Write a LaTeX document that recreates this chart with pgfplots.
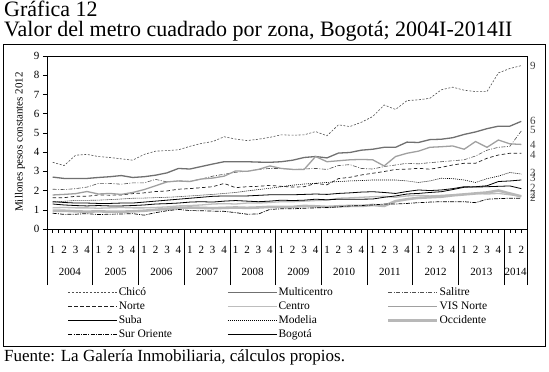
\documentclass[border=0pt]{standalone}
\usepackage{fontspec}
\setmainfont{Liberation Serif}
\usepackage{pgfplots}
\usepackage{pgfplotstable}
\pgfplotsset{compat=1.18}

\definecolor{cChico}{HTML}{505050}
\definecolor{cMulti}{HTML}{707070}
\definecolor{cSal}{HTML}{505050}
\definecolor{cNorte}{HTML}{202020}
\definecolor{cCentro}{HTML}{BDBDBD}
\definecolor{cVis}{HTML}{A0A0A0}
\definecolor{cOcc}{HTML}{B8B8B8}

\pgfplotstableread{
q chico multi salitre norte centro vis suba modelia occ sur bog
1  3.47 2.70 2.07 1.63 1.10 1.77 1.30 1.40 0.95 0.82 1.42
2  3.30 2.63 2.05 1.63 1.12 1.80 1.25 1.44 0.95 0.76 1.38
3  3.84 2.63 2.10 1.70 1.10 1.84 1.22 1.49 0.92 0.77 1.35
4  3.88 2.63 2.18 1.70 1.10 1.95 1.20 1.49 0.90 0.80 1.35
5  3.77 2.68 2.37 1.77 1.08 1.82 1.22 1.50 0.92 0.75 1.33
6  3.72 2.72 2.37 1.76 1.10 1.85 1.20 1.53 0.90 0.77 1.33
7  3.65 2.78 2.33 1.77 1.12 1.80 1.20 1.56 0.90 0.78 1.35
8  3.58 2.68 2.40 1.84 1.10 1.90 1.22 1.60 0.92 0.80 1.35
9  3.88 2.72 2.40 1.88 1.10 2.05 1.25 1.61 0.95 0.72 1.40
10 4.05 2.80 2.58 1.95 1.12 2.25 1.30 1.63 1.00 0.85 1.45
11 4.08 2.92 2.45 1.98 1.15 2.45 1.32 1.65 1.05 0.95 1.50
12 4.12 3.15 2.50 2.07 1.20 2.50 1.35 1.68 1.10 1.02 1.55
13 4.30 3.12 2.48 2.10 1.22 2.47 1.40 1.72 1.12 0.96 1.60
14 4.45 3.25 2.60 2.15 1.25 2.60 1.42 1.76 1.10 0.95 1.65
15 4.55 3.38 2.75 2.20 1.30 2.65 1.40 1.80 1.08 0.93 1.70
16 4.80 3.50 2.85 2.37 1.32 2.75 1.45 1.85 1.10 0.92 1.72
17 4.68 3.50 2.95 2.15 1.30 3.02 1.48 1.90 1.12 0.85 1.72
18 4.60 3.50 3.00 2.20 1.35 3.00 1.45 1.98 1.10 0.77 1.72
19 4.67 3.48 3.10 2.22 1.35 3.10 1.42 2.05 1.12 0.78 1.75
20 4.77 3.47 3.15 2.27 1.38 3.28 1.45 2.12 1.15 1.02 1.78
21 4.90 3.50 3.15 2.22 1.42 3.15 1.50 2.20 1.15 1.05 1.78
22 4.88 3.58 3.10 2.18 1.42 3.10 1.48 2.28 1.15 1.05 1.78
23 4.90 3.72 3.12 2.20 1.45 3.10 1.50 2.34 1.20 1.08 1.80
24 5.07 3.77 3.15 2.37 1.48 3.77 1.55 2.38 1.18 1.10 1.82
25 4.85 3.70 3.10 2.30 1.50 3.50 1.52 2.42 1.15 1.12 1.80
26 5.42 3.95 3.30 2.62 1.60 3.55 1.55 2.47 1.18 1.15 1.85
27 5.33 3.98 3.35 2.69 1.62 3.60 1.55 2.50 1.20 1.20 1.88
28 5.55 4.10 3.15 2.81 1.65 3.62 1.55 2.52 1.20 1.22 1.92
29 5.85 4.15 3.12 2.90 1.68 3.60 1.56 2.55 1.25 1.25 1.94
30 6.45 4.25 3.25 2.99 1.70 3.28 1.65 2.55 1.20 1.30 1.90
31 6.22 4.25 3.33 3.10 1.65 3.77 1.72 2.55 1.45 1.30 1.85
32 6.68 4.52 3.42 3.11 1.72 3.94 1.82 2.50 1.55 1.33 1.95
33 6.72 4.50 3.39 3.16 1.75 4.05 1.85 2.42 1.62 1.37 2.03
34 6.80 4.65 3.45 3.11 1.72 4.25 1.90 2.50 1.65 1.40 2.00
35 7.24 4.67 3.50 3.21 1.75 4.28 1.94 2.64 1.68 1.42 2.03
36 7.38 4.75 3.55 3.33 1.78 4.32 2.05 2.62 1.75 1.42 2.10
37 7.22 4.92 3.60 3.42 1.80 4.15 2.17 2.55 1.80 1.42 2.20
38 7.15 5.05 3.80 3.42 1.85 4.55 2.20 2.42 1.85 1.37 2.18
39 7.15 5.22 4.10 3.68 1.82 4.25 2.25 2.62 1.90 1.55 2.20
40 8.12 5.35 4.25 3.85 1.85 4.63 2.47 2.75 2.00 1.58 2.22
41 8.35 5.35 4.30 3.94 1.78 4.43 2.50 2.94 1.85 1.60 2.24
42 8.50 5.60 5.10 3.94 1.70 4.40 2.55 2.86 1.70 1.60 2.10
}\data

\begin{document}
\begin{tikzpicture}[x=1pt,y=1pt]
\useasboundingbox (0pt,0pt) rectangle (549pt,372pt);
\node[anchor=base west, inner sep=0, font=\fontsize{22}{23}\selectfont] at (4pt,355pt) {Gráfica 12};
\node[anchor=base west, inner sep=0, font=\fontsize{22}{23}\selectfont] at (4pt,335pt) {Valor del metro cuadrado por zona, Bogotá; 2004I-2014II};
\draw[line width=0.8pt] (3pt,26pt) rectangle (545pt,328pt);
\node[anchor=base west, inner sep=0, font=\fontsize{17}{19}\selectfont] at (4pt,10pt) {Fuente: La Galería Inmobiliaria, cálculos propios.};
\node[rotate=90, font=\fontsize{11}{13}\selectfont] at (20pt,230pt) {Millones pesos constantes 2012};

\begin{axis}[
  at={(47pt,143pt)}, anchor=south west,
  width=480pt, height=173pt, scale only axis,
  xmin=0.5, xmax=42.5, ymin=0, ymax=9,
  clip=false,
  axis line style={line width=0.8pt},
  ytick={0,...,9}, ytick pos=left,
  xtick={1,...,42}, xtick pos=bottom,
  xticklabels={1,2,3,4,1,2,3,4,1,2,3,4,1,2,3,4,1,2,3,4,1,2,3,4,1,2,3,4,1,2,3,4,1,2,3,4,1,2,3,4,1,2},
  minor xtick={0.5,1.5,...,42.5},
  tick align=outside, major tick length=4pt, minor tick length=4pt,
  tick style={black, line width=0.5pt},
  extra x ticks={0.5,4.5,8.5,12.5,16.5,20.5,24.5,28.5,32.5,36.5,40.5,42.5},
  extra x tick labels={},
  extra x tick style={major tick length=56pt, tick style={line width=0.6pt}},
  xticklabel style={yshift=-9.5pt},
  ticklabel style={font=\fontsize{11}{12}\selectfont},
  /pgf/number format/assume math mode=true,
  legend columns=3,
  legend cell align=left,
  legend style={draw=none, fill=none, at={(rel axis cs:0.037,-0.322)}, anchor=north west,
    font=\fontsize{11.5}{13}\selectfont, nodes={inner sep=1pt}, row sep=2.6pt,
    /tikz/every even column/.append style={column sep=7.5pt}},
  legend image code/.code={\draw[#1] (0pt,0pt) -- (49pt,0pt);},
]
\addplot[cChico, line width=0.6pt, dash pattern=on 2pt off 1.6pt] table[x=q,y=chico]{\data};
\addlegendentry{\makebox[100pt][l]{Chicó}}
\addplot[cMulti, line width=1.3pt] table[x=q,y=multi]{\data};
\addlegendentry{\makebox[100pt][l]{Multicentro}}
\addplot[cSal, line width=0.6pt, dash pattern=on 4pt off 1.5pt on 1pt off 1.5pt] table[x=q,y=salitre]{\data};
\addlegendentry{Salitre}
\addplot[cNorte, line width=0.7pt, dash pattern=on 3.5pt off 2.5pt] table[x=q,y=norte]{\data};
\addlegendentry{Norte}
\addplot[cCentro, line width=1.3pt] table[x=q,y=centro]{\data};
\addlegendentry{Centro}
\addplot[cVis, line width=1.3pt] table[x=q,y=vis]{\data};
\addlegendentry{VIS Norte}
\addplot[black, line width=0.8pt] table[x=q,y=suba]{\data};
\addlegendentry{Suba}
\addplot[black, line width=0.6pt, dash pattern=on 1pt off 1pt] table[x=q,y=modelia]{\data};
\addlegendentry{Modelia}
\addplot[cOcc, line width=2.6pt] table[x=q,y=occ]{\data};
\addlegendentry{Occidente}
\addplot[black, line width=0.7pt, dash pattern=on 4pt off 1.2pt on 1pt off 1.2pt] table[x=q,y=sur]{\data};
\addlegendentry{Sur Oriente}
\addplot[black, line width=0.8pt] table[x=q,y=bog]{\data};
\addlegendentry{Bogotá}

\foreach \yr/\xc in {2004/2.5,2005/6.5,2006/10.5,2007/14.5,2008/18.5,2009/22.5,2010/26.5,2011/30.5,2012/34.5,2013/38.5,2014/41.5}{
  \edef\tmp{\noexpand\node[font=\noexpand\fontsize{11}{12}\noexpand\selectfont, yshift=-43pt] at (axis cs:\xc,0) {\yr};}\tmp
}
\foreach \lab/\v in {9/8.5,6/5.62,5/5.15,4/4.38,4/3.88,3/2.9,3/2.65,2/2.15,2/1.78,2/1.62}{
  \edef\tmp{\noexpand\node[anchor=west, inner sep=0, xshift=3pt, font=\noexpand\fontsize{11}{12}\noexpand\selectfont, text=black!75] at (axis cs:42.5,\v) {\lab};}\tmp
}
\end{axis}
\end{tikzpicture}
\end{document}
